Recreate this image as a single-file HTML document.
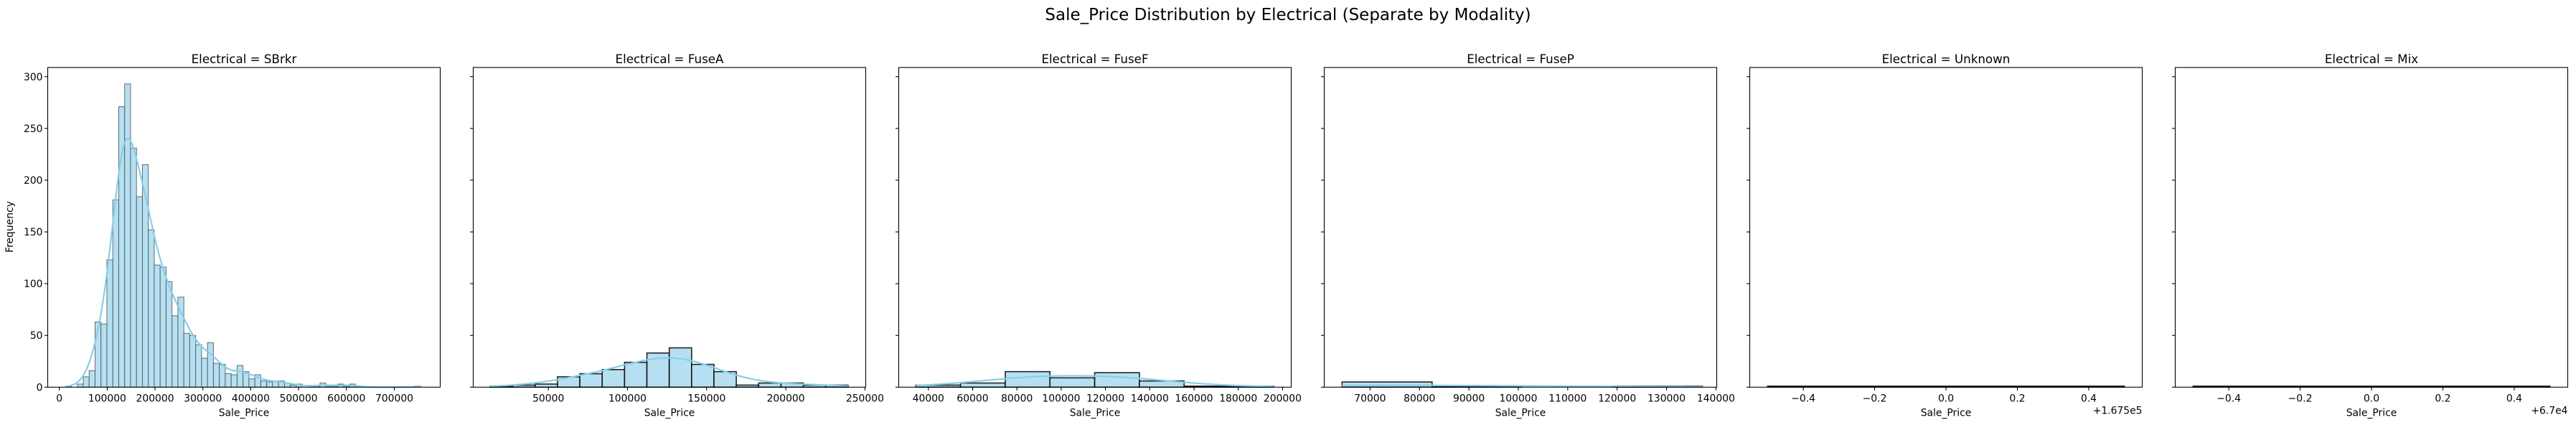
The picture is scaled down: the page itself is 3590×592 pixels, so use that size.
<!DOCTYPE html>
<html><head><meta charset="utf-8"><style>
html,body{margin:0;padding:0;background:#fff;}
svg{display:block;font-family:"DejaVu Sans","Liberation Sans",sans-serif;}
</style></head><body>
<svg id="chart" width="3590" height="592" viewBox="0 0 3590 592" xmlns="http://www.w3.org/2000/svg">
<text x="1795" y="28" font-size="23" text-anchor="middle" fill="#000">Sale_Price Distribution by Electrical (Separate by Modality)</text>
<text transform="translate(18,316) rotate(-90)" font-size="13.9" text-anchor="middle" fill="#000">Frequency</text>
</svg>
<script>
// ---- data ----
const panelNames = ["SBrkr","FuseA","FuseF","FuseP","Unknown","Mix"];
const sbrkrCounts = [1,0,3,10,16,63,61,123,181,271,293,231,184,215,152,118,116,102,69,87,52,50,41,28,43,23,22,13,12,21,15,8,12,6,5,6,6,4,2,3,0,1,1,4,1,1,3,1,3,1,0,0,0,0,0,0,0,0,0,1];
const sbrkrBinStart = 12789, sbrkrBinWidth = 12370;
const fuseACounts = [1,2,3,10,13,17,24,33,38,22,15,2,4,4,2,2];
const fuseABinStart = 13420, fuseABinWidth = 14120;
const fuseFCounts = [2,4,15,9,14,6,1,1];
const fuseFBinStart = 34330, fuseFBinWidth = 20200;
const fusePCounts = [5,1,0,1];
const fusePBinStart = 64320, fusePBinWidth = 18230;
const unknownCounts = [1];
const unknownBinStart = -0.5, unknownBinWidth = 1;
const mixCounts = [1];
const mixBinStart = -0.5, mixBinWidth = 1;
const yTicks = [0,50,100,150,200,250,300];
const xTicks1 = [0,100000,200000,300000,400000,500000,600000,700000];
const xTicks2 = [50000,100000,150000,200000,250000];
const xTicks3 = [40000,60000,80000,100000,120000,140000,160000,180000,200000];
const xTicks4 = [70000,80000,90000,100000,110000,120000,130000,140000];
const xTicksSmall = [-0.4,-0.2,0.0,0.2,0.4];
const offsetLabels = ["","","","","+1.675e5","+6.7e4"];

// ---- layout ----
const NS="http://www.w3.org/2000/svg";
const svg=document.getElementById('chart');
const axTop=94, axBot=539.3, axW=547, gap=46, firstLeft=66.5;
const yMax=(axBot-axTop)/1.4417;
function y(v){return axBot-(v/yMax)*(axBot-axTop);}
function mk(tag,attrs,parent){const e=document.createElementNS(NS,tag);for(const k in attrs)e.setAttribute(k,attrs[k]);(parent||svg).appendChild(e);return e;}

const panels=[
 {counts:sbrkrCounts,start:sbrkrBinStart,w:sbrkrBinWidth,dom:[-24300,796000],ticks:xTicks1,bw:18000,edge:"#4a555a",ew:1,kde:true},
 {counts:fuseACounts,start:fuseABinStart,w:fuseABinWidth,dom:[2540,250500],ticks:xTicks2,bw:20000,edge:"#000",ew:1.6,kde:true},
 {counts:fuseFCounts,start:fuseFBinStart,w:fuseFBinWidth,dom:[26610,203920],ticks:xTicks3,bw:22000,edge:"#000",ew:1.6,kde:true},
 {counts:fusePCounts,start:fusePBinStart,w:fusePBinWidth,dom:[60720,140160],ticks:xTicks4,bw:25000,edge:"#000",ew:1.6,kde:true},
 {counts:unknownCounts,start:unknownBinStart,w:unknownBinWidth,dom:[-0.55,0.55],ticks:xTicksSmall,edge:"#000",ew:1.6,kde:false},
 {counts:mixCounts,start:mixBinStart,w:mixBinWidth,dom:[-0.55,0.55],ticks:xTicksSmall,edge:"#000",ew:1.6,kde:false}
];

panels.forEach((p,i)=>{
  const L=firstLeft+i*(axW+gap), R=L+axW;
  const x=v=>L+(v-p.dom[0])/(p.dom[1]-p.dom[0])*axW;
  const g=mk('g',{});
  
  
  const t=mk('text',{x:(L+R)/2,y:88,'font-size':16.7,'text-anchor':'middle',fill:'#000'},g);
  t.textContent='Electrical = '+panelNames[i];
  
  
  // bars
  p.counts.forEach((c,k)=>{
    if(c<=0) return;
    const x0=x(p.start+k*p.w), x1=x(p.start+(k+1)*p.w);
    const r=mk('rect',{x:x0,y:y(c),width:x1-x0,height:axBot-y(c),fill:'#b6e0f1',stroke:p.edge,'stroke-width':p.ew,'stroke-opacity':0.85},g);
    
    
  });
  // kde from histogram
  if(p.kde){
    const lo=p.start, hi=p.start+p.counts.length*p.w, pts=[];
    for(let s=0;s<=200;s++){
      const xv=lo+(hi-lo)*s/200; let d=0;
      p.counts.forEach((c,k)=>{const cx=p.start+(k+0.5)*p.w;const z=(xv-cx)/p.bw;d+=c*Math.exp(-0.5*z*z)/(p.bw*Math.sqrt(2*Math.PI));});
      pts.push(x(xv).toFixed(2)+','+y(d*p.w).toFixed(2));
    }
    const pl=mk('polyline',{points:pts.join(' '),fill:'none',stroke:'#87ceeb','stroke-width':2.2},g);
    
    
  }
  // frame
  const fr=mk('rect',{x:L,y:axTop,width:axW,height:axBot-axTop,fill:'none',stroke:'#000','stroke-width':1.1},g);
  
  
  // y ticks
  yTicks.forEach(v=>{
    mk('line',{x1:L-4.5,x2:L,y1:y(v),y2:y(v),stroke:'#000','stroke-width':1.1},g);
    if(i===0){
      const tl=mk('text',{x:L-7,y:y(v)+5,'font-size':13.9,'text-anchor':'end',fill:'#000'},g);
      tl.textContent=v;
      
      
    }
  });
  // x ticks
  p.ticks.forEach(v=>{
    const xx=x(v);
    mk('line',{x1:xx,x2:xx,y1:axBot,y2:axBot+4.5,stroke:'#000','stroke-width':1.1},g);
    const tl=mk('text',{x:xx,y:axBot+20,'font-size':13.9,'text-anchor':'middle',fill:'#000'},g);
    tl.textContent=(i>=4)?(v<0?'\u2212':'')+Math.abs(v).toFixed(1):String(v);
    
    
  });
  const xl=mk('text',{x:(L+R)/2,y:axBot+40,'font-size':13.9,'text-anchor':'middle',fill:'#000'},g);
  xl.textContent='Sale_Price';
  
  
  if(offsetLabels[i]){
    const ot=mk('text',{x:R,y:axBot+37,'font-size':13.9,'text-anchor':'end',fill:'#000'},g);
    ot.textContent=offsetLabels[i];
    
    
  }
});
</script>
</body></html>
